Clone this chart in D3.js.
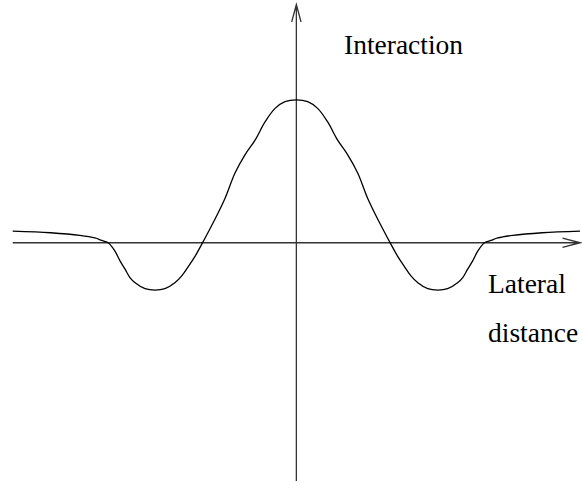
<!DOCTYPE html>
<html>
<head>
<meta charset="utf-8">
<script src="https://cdn.jsdelivr.net/npm/d3@7"></script>
<style>
  html, body { margin: 0; padding: 0; background: #fff; }
  svg { display: block; }
</style>
</head>
<body>
<div id="chart"></div>
<script>
// Lateral interaction profile ("Mexican hat").
const lateral = [-3, -2.6, -2.29, -2.13, -2.06, -1.99, -1.92, -1.865, -1.81, -1.76, -1.705, -1.6,
                 -1.495, -1.39, -1.285, -1.21, -1.14, -1.07, -1.0, -0.875, -0.755, -0.65, -0.545,
                 -0.435, -0.33, -0.225, -0.12, 0,
                 0.12, 0.225, 0.33, 0.435, 0.545, 0.65, 0.755, 0.875, 1.0, 1.07, 1.14, 1.21,
                 1.285, 1.39, 1.495, 1.6, 1.705, 1.76, 1.81, 1.865, 1.92, 1.99, 2.06, 2.13,
                 2.29, 2.6, 3];
const interaction = [0.245, 0.21, 0.155, 0.1, 0.05, 0, -0.17, -0.38, -0.56, -0.73, -0.84, -0.965,
                     -0.995, -0.965, -0.84, -0.69, -0.49, -0.28, -0.03, 0.44, 0.93, 1.46, 1.84,
                     2.16, 2.54, 2.82, 2.96, 3,
                     2.96, 2.82, 2.54, 2.16, 1.84, 1.46, 0.93, 0.44, -0.03, -0.28, -0.49, -0.69,
                     -0.84, -0.965, -0.995, -0.965, -0.84, -0.73, -0.56, -0.38, -0.17, 0, 0.05, 0.1,
                     0.155, 0.21, 0.245];
const xDomain = [-3, 3];
const yDomain = [-5, 5];
const yLabel = 'Interaction';
const xLabel = ['Lateral', 'distance'];

const W = 582, H = 483;
const svg = d3.select('#chart').append('svg').attr('width', W).attr('height', H);

const x = d3.scaleLinear().domain(xDomain).range([12.7, 580]);
const y = d3.scaleLinear().domain(yDomain).range([481, 4.5]);

const axisColor = '#333';
const head = 17.5, half = 4.7;

// horizontal axis with open arrow head
const x0 = x(xDomain[0]), x1 = x(xDomain[1]), yz = y(0);
svg.append('path')
  .attr('d', `M${x0},${yz}H${x1}M${x1 - head},${yz - half}L${x1},${yz}L${x1 - head},${yz + half}`)
  .attr('fill', 'none').attr('stroke', axisColor).attr('stroke-width', 1.3);

// vertical axis with open arrow head
const xz = x(0), yt = y(yDomain[1]), yb = y(yDomain[0]);
svg.append('path')
  .attr('d', `M${xz},${yb}V${yt}M${xz - half},${yt + head}L${xz},${yt}L${xz + half},${yt + head}`)
  .attr('fill', 'none').attr('stroke', axisColor).attr('stroke-width', 1.3);

// the curve
const pts = lateral.map((d, i) => [d, interaction[i]]);
const line = d3.line().x(d => x(d[0])).y(d => y(d[1])).curve(d3.curveCatmullRom.alpha(0.5));
svg.append('path').attr('d', line(pts))
  .attr('fill', 'none').attr('stroke', '#000').attr('stroke-width', 1.3);

// labels
const font = '"Liberation Serif", "Times New Roman", serif';
svg.append('text').attr('x', 344).attr('y', 54)
  .attr('font-family', font).attr('font-size', 27.5).attr('fill', '#000').text(yLabel);
xLabel.forEach((t, i) => svg.append('text').attr('x', 488).attr('y', 293 + i * 48.5)
  .attr('font-family', font).attr('font-size', 27.5).attr('fill', '#000').text(t));
</script>
</body>
</html>
